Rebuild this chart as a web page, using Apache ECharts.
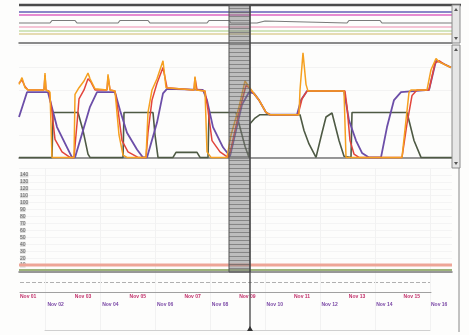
<!DOCTYPE html>
<html><head><meta charset="utf-8">
<script src="https://cdn.jsdelivr.net/npm/echarts@6/dist/echarts.min.js"></script>
<style>html,body{margin:0;padding:0;background:#fdfdfc;}#c{width:469px;height:335px;}</style>
</head><body><div id="c"></div>
<script>
// ---- data (time units along the run, values in panel units) ----
const purple = [[0,36],[8,58],[29,58],[31,51],[38,27],[48,9],[53,0],[56,0],[64,24],[71,45],[78,58],[96,58],[101,42],[108,22],[118,7],[124,0],[128,0],[138,31],[144,57],[148,61],[184,60],[188,51],[194,27],[204,9],[211,1],[213,2],[217,24],[223,47],[230,58],[235,57],[240,51],[247,40],[251,38],[278,38],[282,51],[288,59],[325,59],[330,33],[337,15],[343,4],[350,0],[362,0],[368,27],[375,51],[382,58],[410,60],[417,86],[423,84],[432,80]];
const red = [[0,66],[3,69],[6,63],[9,60],[25,60],[26,73],[27,60],[30,59],[33,40],[36,16],[43,5],[51,0],[55,0],[58,30],[60,52],[65,60],[69,70],[72,67],[76,60],[88,60],[89,72],[91,60],[96,59],[99,42],[103,15],[109,5],[119,0],[127,0],[129,22],[133,51],[138,66],[144,80],[148,62],[175,60],[176,71],[178,60],[186,59],[189,42],[193,15],[201,5],[209,0],[211,4],[220,40],[227,64],[230,62],[240,51],[247,40],[251,38],[279,38],[283,52],[288,59],[326,59],[328,45],[331,15],[335,3],[340,0],[383,0],[388,30],[393,55],[398,60],[410,60],[416,84],[420,86],[425,83],[432,80]];
const orange = [[0,65],[3,71],[6,62],[9,60],[25,60],[26,75],[27,60],[31,58],[33,0],[55,0],[56,56],[60,62],[65,68],[69,75],[71,70],[76,61],[88,60],[89,74],[91,60],[96,59],[100,20],[104,2],[108,0],[127,0],[129,40],[133,60],[138,70],[144,86],[147,62],[175,60],[176,72],[177,60],[186,59],[188,5],[192,0],[208,0],[212,20],[220,45],[226,68],[229,64],[240,51],[247,40],[251,38],[280,38],[281,60],[284,93],[287,65],[289,59],[325,59],[327,0],[383,0],[390,58],[392,60],[408,60],[412,78],[417,88],[420,85],[432,80]];
const green = [[0,0],[33,0],[34,40],[59,40],[64,24],[69,3],[71,0],[104,0],[105,40],[134,40],[136,20],[139,0],[154,0],[157,4.5],[178,4.5],[181,0],[189,0],[190,40],[217,40],[220,30],[226,10],[230,0],[231,30],[236,35],[241,38],[281,38],[285,24],[290,12],[297,0],[303,22],[307,36],[313,39.5],[320,15],[325,1],[326,0],[332,0],[333,40],[388,40],[395,15],[402,0],[433,0]];
const runState = [[0,20],[31,20],[33,22.5],[56,22.5],[58,20],[99,20],[101,22.5],[129,22.5],[131,20],[188,20],[190,22.5],[210,22.5],[212,20],[238,20],[239,22],[246,22],[247,20],[328,20],[330,22.5],[361,22.5],[363,20],[433,20]];
const topLevels = [31, 28, 16, 12, 9];
const lowerLevels = [10, 3];
const timeLabels = ['Nov 01','Nov 02','Nov 03','Nov 04','Nov 05','Nov 06','Nov 07','Nov 08','Nov 09','Nov 10','Nov 11','Nov 12','Nov 13','Nov 14','Nov 15','Nov 16'];
const bandRange = [210, 231];
const tEnd = 433;

// ---- chart ----
const chart = echarts.init(document.getElementById('c'), null, {renderer:'canvas'});
const topColors = ['#8a86c8','#e58ad0','#f2b0c8','#c3dca8','#dccf98'];
const topWidths = [2,2,1.5,1.5,1.5];
const hidden = {show:false};
const series = [];
topLevels.forEach((lv,i)=>{
  series.push({type:'line', xAxisIndex:0, yAxisIndex:0, data:[[0,lv],[tEnd,lv]], showSymbol:false, silent:true,
    lineStyle:{color:topColors[i], width:topWidths[i]}});
});
series.push({type:'line', xAxisIndex:0, yAxisIndex:0, data:runState, showSymbol:false, lineStyle:{color:'#7a7a7a', width:1.2}});
const mainSet = [[green,'#4e5a44',1.6],[purple,'#6c4ea8',1.8],[red,'#e2453c',1.5],[orange,'#f5a020',1.5]];
mainSet.forEach(([d,c,w])=>{
  series.push({type:'line', xAxisIndex:1, yAxisIndex:1, data:d, showSymbol:false, lineStyle:{color:c, width:w}});
});
const lowColors = ['#eea597','#9cb27a'];
lowerLevels.forEach((lv,i)=>{
  series.push({type:'line', xAxisIndex:2, yAxisIndex:2, data:[[0,lv],[tEnd,lv]], showSymbol:false,
    lineStyle:{color:lowColors[i], width: i===0?3:2}});
});

const option = {
  animation:false,
  backgroundColor:'#fdfdfc',
  grid:[
    {left:19, right:17, top:5, height:38},
    {left:19, right:17, top:45, height:123},
    {left:19, right:17, top:168, height:104},
    {left:20, width:411, top:282, height:10},
    {left:45, width:385, top:168, height:162}
  ],
  xAxis:[
    {gridIndex:0, type:'value', min:0, max:tEnd, axisLabel:hidden, axisTick:hidden, splitLine:hidden, axisLine:{lineStyle:{color:'#666', width:1.5}}},
    {gridIndex:1, type:'value', min:0, max:tEnd, axisLabel:hidden, axisTick:hidden, splitLine:hidden, axisLine:{lineStyle:{color:'#777', width:1.5}}},
    {gridIndex:2, type:'value', min:0, max:tEnd, axisLabel:hidden, axisTick:hidden, splitLine:hidden, axisLine:{lineStyle:{color:'#777', width:1.5}}},
    {gridIndex:3, type:'category', data:timeLabels, boundaryGap:false, axisTick:hidden,
      axisLine:{lineStyle:{color:'#a0a0a0'}},
      axisLabel:{interval:0, align:'left', margin:2, fontSize:5, fontWeight:'bold', fontFamily:'Liberation Sans',
        formatter:(v,i)=> i%2 ? '{b|'+v+'}' : '{a|'+v+'}',
        rich:{a:{color:'#c2306a', fontSize:5, fontWeight:'bold'}, b:{color:'#7a48a6', fontSize:5, fontWeight:'bold', padding:[8,0,0,0]}}}},
    {gridIndex:4, type:'value', min:0, max:385, interval:55, axisLabel:hidden, axisTick:hidden,
      axisLine:{lineStyle:{color:'#d0d0d0'}}, splitLine:{show:true, lineStyle:{color:'#f2f2f2', width:1}}}
  ],
  yAxis:[
    {gridIndex:0, type:'value', min:0, max:38, axisLabel:hidden, axisTick:hidden, axisLine:hidden, splitLine:hidden},
    {gridIndex:1, type:'value', min:-9.4, max:100, axisLabel:hidden, axisTick:hidden, axisLine:hidden, splitLine:{show:true, lineStyle:{color:'#f3f3f3'}}},
    {gridIndex:2, type:'value', min:0, max:150, interval:10, axisTick:hidden, axisLine:hidden,
      splitLine:{show:true, lineStyle:{color:'#f4f4f4'}},
      axisLabel:{inside:true, fontSize:5, color:'#666', margin:1, showMinLabel:false, showMaxLabel:false,
        backgroundColor:'rgba(150,150,150,0.35)', fontFamily:'Liberation Sans'}},
    {gridIndex:3, type:'value', min:0, max:1, interval:1, axisLabel:hidden, axisTick:hidden, axisLine:hidden,
      splitLine:{show:true, lineStyle:{color:'#b0b0b0', type:'dashed'}}},
    {gridIndex:4, type:'value', min:0, max:1, axisLabel:hidden, axisTick:hidden, axisLine:hidden, splitLine:hidden}
  ],
  series: series
};
chart.setOption(option);

// ---- overlay decorations positioned through the axes ----
const xp = v => chart.convertToPixel({xAxisIndex:1}, v);
const bx0 = xp(bandRange[0]), bx1 = xp(bandRange[1]);
const yTop = chart.convertToPixel({yAxisIndex:0}, 38);
const yBot = chart.convertToPixel({yAxisIndex:2}, 0);
const yMid1 = chart.convertToPixel({yAxisIndex:1}, 100);
const yMid2 = chart.convertToPixel({yAxisIndex:1}, -9.4);
const yP1b = chart.convertToPixel({yAxisIndex:0}, 0);
const xRight = xp(tEnd);
const yEnd = chart.convertToPixel({yAxisIndex:4}, 0);

const pc = document.createElement('canvas'); pc.width = 6; pc.height = 4;
const g = pc.getContext('2d');
g.fillStyle = 'rgba(125,125,125,0.5)'; g.fillRect(0,0,6,4);
g.fillStyle = 'rgba(90,90,90,0.55)'; g.fillRect(0,0,6,1);

const gr = [];
// header bar
gr.push({type:'line', shape:{x1:xp(0), y1:yTop, x2:xRight+9, y2:yTop}, style:{stroke:'#4a4a4a', lineWidth:2.5}, z:10});
// scrollbars
[[yTop, yP1b],[yMid1, yMid2]].forEach(([a,b])=>{
  gr.push({type:'rect', shape:{x:xRight, y:a, width:8, height:b-a}, style:{fill:'#e6e6e6', stroke:'#8a8a8a', lineWidth:1}, z:10});
  gr.push({type:'polygon', shape:{points:[[xRight+2,a+6],[xRight+6,a+6],[xRight+4,a+3]]}, style:{fill:'#555'}, z:11});
  gr.push({type:'polygon', shape:{points:[[xRight+2,b-6],[xRight+6,b-6],[xRight+4,b-3]]}, style:{fill:'#555'}, z:11});
});
// right edge line below
gr.push({type:'line', shape:{x1:xRight+7, y1:yMid2, x2:xRight+7, y2:yEnd+2}, style:{stroke:'#888', lineWidth:1}, z:10});
// selection band
gr.push({type:'rect', shape:{x:bx0, y:yTop, width:bx1-bx0, height:yBot-yTop}, style:{fill:{image:pc, repeat:'repeat'}, stroke:'#555', lineWidth:1}, z:20});
// cursor line
gr.push({type:'line', shape:{x1:bx1, y1:yTop, x2:bx1, y2:yEnd}, style:{stroke:'#444', lineWidth:1.3}, z:21});
gr.push({type:'polygon', shape:{points:[[bx1-3,yEnd+1],[bx1+3,yEnd+1],[bx1,yEnd-4]]}, style:{fill:'#333'}, z:21});
chart.setOption({graphic: gr});
</script>
</body></html>
